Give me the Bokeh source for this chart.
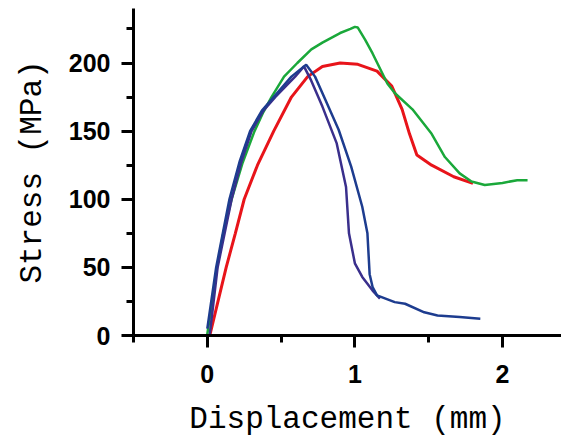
from bokeh.plotting import figure
from bokeh.models import Range1d, FixedTicker
from bokeh.embed import file_html
from bokeh.resources import INLINE

# Displacement (mm) / Stress (MPa)
green_x = [0.0, 0.03, 0.066, 0.11, 0.165, 0.24, 0.32, 0.38, 0.435, 0.52, 0.61, 0.705, 0.78, 0.90, 0.97, 1.0, 1.02,
           1.07, 1.12, 1.22, 1.27, 1.39, 1.52, 1.61, 1.71, 1.79, 1.88, 2.0, 2.10, 2.17]
green_y = [1, 22, 50, 76, 100, 127, 150, 164, 175, 190, 200, 210, 215, 222, 225, 226.5, 226,
           217, 207, 185, 178, 166, 148, 131, 119, 113, 110.5, 112, 114, 114]

red_x = [0.017, 0.07, 0.128, 0.19, 0.25, 0.34, 0.45, 0.57, 0.68, 0.78, 0.90, 1.02, 1.15, 1.25,
         1.32, 1.37, 1.42, 1.52, 1.67, 1.80]
red_y = [0, 24, 50, 75, 100, 125, 150, 175, 190, 197.5, 200, 199, 194, 183,
         166, 148, 132.5, 125, 116.5, 111.7]

blue1_x = [0.0, 0.06, 0.15, 0.22, 0.29, 0.37, 0.45, 0.57, 0.67, 0.73, 0.80, 0.89, 0.975, 1.05, 1.085, 1.10,
           1.12, 1.15, 1.27, 1.34, 1.47, 1.56, 1.71, 1.85]
blue1_y = [5, 50, 100, 128, 150, 165, 175, 190, 198.8, 190, 173, 151, 124, 94.5, 75, 45,
           35.6, 29.4, 24.5, 23.3, 17, 14.7, 13.5, 12.3]

blue2_x = [0.017, 0.07, 0.165, 0.23, 0.30, 0.38, 0.46, 0.595, 0.655, 0.70, 0.78, 0.877, 0.94, 0.96, 1.0,
           1.05, 1.12, 1.17]
blue2_y = [1, 50, 100, 127, 150, 165, 175, 190, 197.5, 188, 168, 141, 109, 75, 53,
           43, 33, 27]

x_ticks = [0, 1, 2]
x_minor = [-0.5, 0.5, 1.5]
y_ticks = [0, 50, 100, 150, 200]
y_minor = [25, 75, 125, 175, 225]

p = figure(width=561, height=442, output_backend="svg", toolbar_location=None,
           x_range=Range1d(-0.5, 2.40), y_range=Range1d(0, 240),
           min_border_left=133, min_border_top=8, min_border_right=0, min_border_bottom=107)
p.outline_line_color = None
p.grid.visible = False
p.background_fill_color = "white"

p.line(red_x, red_y, line_color="#e8141a", line_width=3)
p.line(green_x, green_y, line_color="#1aa83a", line_width=2.5)
p.line(blue2_x, blue2_y, line_color="#3a2f8c", line_width=2.5)
p.line(blue1_x, blue1_y, line_color="#1d3c8f", line_width=2.5)

for ax in (p.xaxis[0], p.yaxis[0]):
    ax.axis_line_width = 3
    ax.axis_line_color = "black"
    ax.major_tick_line_width = 3
    ax.minor_tick_line_width = 3
    ax.major_tick_out = 12
    ax.major_tick_in = 0
    ax.minor_tick_out = 7
    ax.minor_tick_in = 0
    ax.major_label_text_font = "Liberation Sans"
    ax.major_label_text_font_style = "bold"
    ax.major_label_text_font_size = "25px"
    ax.major_label_text_color = "black"
    ax.axis_label_text_font = "Liberation Mono"
    ax.axis_label_text_font_style = "normal"
    ax.axis_label_text_font_size = "31px"
    ax.axis_label_text_color = "black"

p.xaxis[0].ticker = FixedTicker(ticks=x_ticks, minor_ticks=x_minor)
p.yaxis[0].ticker = FixedTicker(ticks=y_ticks, minor_ticks=y_minor)
p.xaxis[0].axis_label = "Displacement (mm)"
p.yaxis[0].axis_label = "Stress (MPa)"
p.xaxis[0].major_label_standoff = 17
p.yaxis[0].major_label_standoff = 11
p.xaxis[0].axis_label_standoff = 16
p.yaxis[0].axis_label_standoff = 16

open("out.html", "w").write(file_html(p, INLINE))
